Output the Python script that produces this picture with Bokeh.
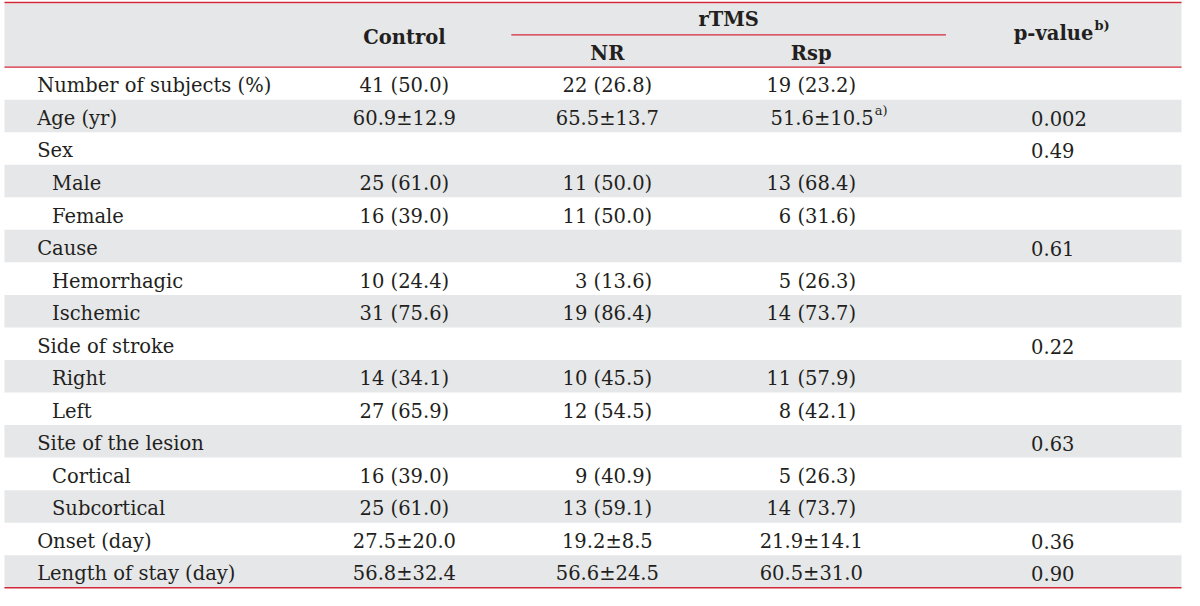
from bokeh.plotting import figure
from bokeh.models import Range1d, ColumnDataSource
from bokeh.core.properties import value
from bokeh.embed import file_html
from bokeh.resources import INLINE

# ---------------- data ----------------
labels = ["Number of subjects (%)", "Age (yr)", "Sex", "Male", "Female", "Cause",
          "Hemorrhagic", "Ischemic", "Side of stroke", "Right", "Left",
          "Site of the lesion", "Cortical", "Subcortical", "Onset (day)",
          "Length of stay (day)"]
indent = [0, 0, 0, 1, 1, 0, 1, 1, 0, 1, 1, 0, 1, 1, 0, 0]
control = ["41 (50.0)", "60.9±12.9", "", "25 (61.0)", "16 (39.0)", "", "10 (24.4)",
           "31 (75.6)", "", "14 (34.1)", "27 (65.9)", "", "16 (39.0)", "25 (61.0)",
           "27.5±20.0", "56.8±32.4"]
nr = ["22 (26.8)", "65.5±13.7", "", "11 (50.0)", "11 (50.0)", "", "3 (13.6)",
      "19 (86.4)", "", "10 (45.5)", "12 (54.5)", "", "9 (40.9)", "13 (59.1)",
      "19.2±8.5", "56.6±24.5"]
rsp = ["19 (23.2)", "51.6±10.5", "", "13 (68.4)", "6 (31.6)", "", "5 (26.3)",
       "14 (73.7)", "", "11 (57.9)", "8 (42.1)", "", "5 (26.3)", "14 (73.7)",
       "21.9±14.1", "60.5±31.0"]
pvalue = ["", "0.002", "0.49", "", "", "0.61", "", "", "0.22", "", "", "0.63", "",
          "", "0.36", "0.90"]
rsp_note = ["", "a)", "", "", "", "", "", "", "", "", "", "", "", "", "", ""]
header_groups = ["Control", "rTMS", "p-value"]
header_sub = ["NR", "Rsp"]
pvalue_note = "b)"

# ---------------- layout ----------------
RED = "#d3283a"
GRAY = "#e6e7e9"
INK = "#231f20"
FONT = value("DejaVu Serif")
FS = "19.5px"
X0, X1 = 6, 1195
HEAD_TOP, HEAD_BOT = 5, 70
ROW_H = 33.2
TEXT_DY = 2.5
LABEL_X, INDENT_X = 39, 54
CTRL_X, NR_X, RSP_X, P_X = 410, 615, 821, 1043


def pad(s):
    # single-digit counts are padded with a figure space (as in the source)
    if s and s[0].isdigit() and len(s) > 1 and s[1] == " ":
        return "\u2007" + s
    return s


n = len(labels)
tops = [HEAD_BOT + i * ROW_H for i in range(n)]
centers = [t + ROW_H / 2 + TEXT_DY for t in tops]

p = figure(width=1184, height=590, x_range=Range1d(2, 1198), y_range=Range1d(604, 2),
           output_backend="svg", toolbar_location=None, min_border=0,
           x_axis_type=None, y_axis_type=None)
p.grid.visible = False
p.outline_line_color = None
p.background_fill_color = "white"
p.border_fill_color = "white"

# header band + striped rows
gray_rows = [i for i in range(n) if i % 2 == 1]
p.quad(left=[X0] * (len(gray_rows) + 1), right=[X1] * (len(gray_rows) + 1),
       top=[HEAD_TOP] + [tops[i] for i in gray_rows],
       bottom=[HEAD_BOT] + [tops[i] + ROW_H for i in gray_rows],
       fill_color=GRAY, line_color=None)

# rules
end_y = HEAD_BOT + n * ROW_H
p.segment(x0=[X0, X0, X0, 518], x1=[X1, X1, X1, 957],
          y0=[4, HEAD_BOT, end_y, 37], y1=[4, HEAD_BOT, end_y, 37],
          line_color=RED, line_width=[1.6, 1.4, 1.6, 1.3])

# header texts
p.text(x=[CTRL_X, (518 + 957) / 2, NR_X, RSP_X],
       y=[40, 21, 56, 56],
       text=[header_groups[0], header_groups[1], header_sub[0], header_sub[1]],
       text_font=FONT, text_font_size=FS, text_font_style="bold",
       text_align="center", text_baseline="middle", text_color=INK)
p.text(x=[1106], y=[36], text=[header_groups[2]], text_font=FONT, text_font_size=FS,
       text_font_style="bold", text_align="right", text_baseline="middle",
       text_color=INK)
p.text(x=[1107], y=[28], text=[pvalue_note], text_font=FONT, text_font_size="13px",
       text_font_style="bold", text_align="left", text_baseline="middle",
       text_color=INK)

# body
src = ColumnDataSource(dict(
    y=centers,
    lx=[INDENT_X if k else LABEL_X for k in indent],
    label=labels,
    ctrl=[pad(s) for s in control],
    nr=[pad(s) for s in nr],
    pv=pvalue,
))
common = dict(text_font=FONT, text_font_size=FS, text_baseline="middle",
              text_color=INK, source=src)
p.text(x="lx", y="y", text="label", text_align="left", **common)
p.text(x=CTRL_X, y="y", text="ctrl", text_align="center", **common)
p.text(x=NR_X, y="y", text="nr", text_align="center", **common)
p.text(x=P_X, y="y", text="pv", text_align="left", **common)

# Rsp column (with footnote marker where present)
plain = [i for i in range(n) if not rsp_note[i]]
noted = [i for i in range(n) if rsp_note[i]]
p.text(x=[RSP_X] * len(plain), y=[centers[i] for i in plain],
       text=[pad(rsp[i]) for i in plain], text_align="center", text_font=FONT,
       text_font_size=FS, text_baseline="middle", text_color=INK)
p.text(x=[884] * len(noted), y=[centers[i] for i in noted],
       text=[rsp[i] for i in noted], text_align="right", text_font=FONT,
       text_font_size=FS, text_baseline="middle", text_color=INK)
p.text(x=[885] * len(noted), y=[centers[i] - 8 for i in noted],
       text=[rsp_note[i] for i in noted], text_align="left", text_font=FONT,
       text_font_size="13px", text_baseline="middle", text_color=INK)

open("out.html", "w").write(file_html(p, INLINE))
